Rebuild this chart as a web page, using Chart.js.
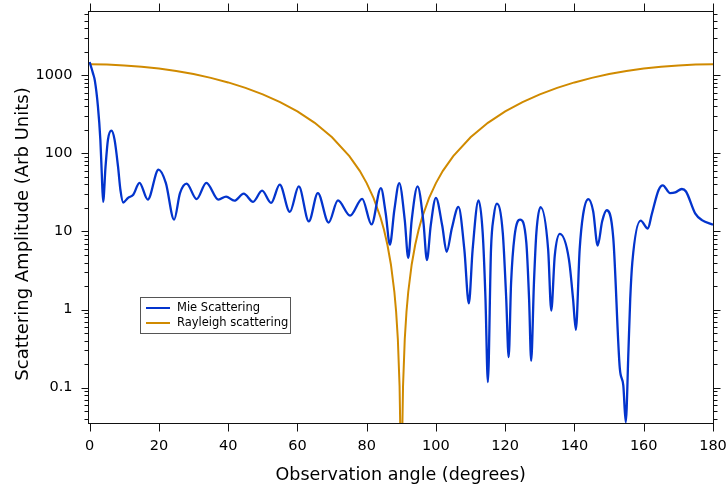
<!DOCTYPE html>
<html>
<head>
<meta charset="utf-8">
<script src="https://cdn.jsdelivr.net/npm/chart.js@4.4.0/dist/chart.umd.min.js"></script>
<style>
  html, body { margin: 0; padding: 0; background: #fff; }
</style>
</head>
<body>
<canvas id="scatterChart" width="728" height="492"></canvas>
<script>
// values
var mieAngle = [0, 1, 1.5, 2.4, 3.1, 3.5, 3.9, 4.6, 5.3, 6.3, 7.2, 8.2, 8.9, 9.7, 11.1, 12.6, 14.4, 16.8, 19.9, 22,
  24.4, 26.1, 28, 30.9, 33.7, 37.2, 39.4, 41.8, 44.5, 47.2, 49.8, 52.4, 54.9, 57.8, 60.4, 63.3, 65.9, 69, 71.7, 75.2,
  78.7, 81.4, 84.1, 85.5, 86.7, 88, 89.4, 91, 92, 93, 94.7, 96.4, 97.4, 98.5, 100, 101.8, 103.1, 104.6, 106.5, 108.2,
  109.5, 110.6, 112.3, 113.5, 114.3, 115, 115.9, 116.7, 117.6, 119.3, 120.3, 121, 121.7, 122.7, 124.3, 126.1, 126.9, 127.5, 128.3, 129,
  130.2, 132.4, 133.3, 134.3, 135.8, 138.4, 139.6, 140.4, 141.5, 142.5, 144, 145.4, 146.7, 148, 149.3, 151.2, 153.1, 154.1, 154.8, 155.6,
  156.1, 156.7, 159.1, 161.2, 162.3, 164.3, 165.5, 167.6, 169.1, 171, 172.2, 174.9, 176.8, 180];
var mieAmp = [1480, 1050, 860, 400, 150, 57, 24, 68, 150, 195, 150, 68, 34, 23.5, 27, 29.6, 42, 25.6, 62, 42,
  14.2, 31, 41, 26, 42, 25.6, 28, 24.8, 30.5, 24, 33.3, 23.2, 39.7, 17.8, 37.7, 13.5, 31, 13, 25, 16,
  26.2, 12.3, 36, 17, 6.8, 19, 41.7, 14, 4.6, 14, 37.7, 13, 4.3, 12, 27, 12, 5.5, 11, 20.7, 5.9,
  1.2, 5.9, 25, 9.6, 1.4, 0.118, 5.9, 15.7, 22.7, 9.6, 1.36, 0.246, 2.2, 8.7, 14.2, 7.2, 1.36, 0.22, 2.2, 9.6,
  20.5, 5.9, 0.97, 4.85, 9.3, 4.4, 1.36, 0.55, 5.9, 16.5, 26, 18.2, 6.6, 13.5, 18.7, 8.3, 0.175, 0.107, 0.036, 0.31,
  1.36, 4, 13.8, 10.9, 16.5, 34, 39, 31, 31.6, 35, 32.5, 16.9, 14, 12.2];

var rayAngle = [0, 5, 10, 15, 20, 25, 30, 35, 40, 45, 50, 55, 60, 65, 70, 75, 78, 80, 82, 84, 85, 86, 87, 88, 88.5, 89, 89.5, 89.8, 90,
  90.2, 90.5, 91, 91.5, 92, 93, 94, 95, 96, 98, 100, 102, 105, 110, 115, 120, 125, 130, 135, 140, 145, 150, 155, 160, 165, 170, 175, 180];
var rayAmp = [1380, 1370, 1338, 1288, 1219, 1134, 1035, 926, 810, 690, 570, 454, 345, 246, 161, 92.4, 59.7, 41.6, 26.7, 15.1, 10.5, 6.72, 3.78, 1.68, 0.945, 0.42, 0.105, 0.0168, 0.0001,
  0.0168, 0.105, 0.42, 0.945, 1.68, 3.78, 6.72, 10.5, 15.1, 26.7, 41.6, 59.7, 92.4, 161, 246, 345, 454, 570, 690, 810, 926, 1035, 1134, 1219, 1288, 1338, 1370, 1380];

var xTickValues = [0, 20, 40, 60, 80, 100, 120, 140, 160, 180];
var yTickValues = [0.1, 1, 10, 100, 1000];
var yMin = 0.0343, yMax = 6650;
var xMin = -0.61, xMax = 180.29;

var mieColor = '#0334cd';
var rayColor = '#d08a00';
var axisColor = '#111';

function toPoints(xs, ys) {
    return xs.map(function (v, i) { return { x: v, y: ys[i] }; });
}

// minor ticks on the log axis: 2..9 times each decade
var yMinorValues = [];
for (var e = -2; e <= 3; e++) {
    for (var m = 2; m <= 9; m++) {
        var v = m * Math.pow(10, e);
        if (v > yMin && v < yMax) yMinorValues.push(v);
    }
}

// no extra room for the end labels, the frame sits where the reference has it
function noPadding(scale) {
    scale.paddingTop = 0;
    scale.paddingBottom = 0;
    scale.paddingLeft = 0;
    scale.paddingRight = 0;
}

// frame, outward ticks on all four sides, y title and the boxed legend
var framePlugin = {
    id: 'frame',
    afterDraw: function (chart) {
        var ctx = chart.ctx;
        var a = chart.chartArea;
        var xs = chart.scales.x, ys = chart.scales.y;
        ctx.save();
        ctx.strokeStyle = axisColor;
        ctx.lineWidth = 1;
        var L = Math.round(a.left) + 0.5, R = Math.round(a.right) - 0.5;
        var T = Math.round(a.top) + 0.5, B = Math.round(a.bottom) - 0.5;
        ctx.strokeRect(L, T, R - L, B - T);
        ctx.beginPath();
        xTickValues.forEach(function (v) {
            var px = Math.round(xs.getPixelForValue(v)) + 0.5;
            ctx.moveTo(px, B); ctx.lineTo(px, B + 8);
            ctx.moveTo(px, T); ctx.lineTo(px, T - 8);
        });
        yTickValues.forEach(function (v) {
            var py = Math.round(ys.getPixelForValue(v)) + 0.5;
            ctx.moveTo(L, py); ctx.lineTo(L - 7, py);
            ctx.moveTo(R, py); ctx.lineTo(R + 7, py);
        });
        yMinorValues.forEach(function (v) {
            var py = Math.round(ys.getPixelForValue(v)) + 0.5;
            ctx.moveTo(L, py); ctx.lineTo(L - 4, py);
            ctx.moveTo(R, py); ctx.lineTo(R + 4, py);
        });
        ctx.stroke();

        // y axis title
        ctx.fillStyle = '#000';
        ctx.font = '18px "DejaVu Sans"';
        ctx.textAlign = 'center';
        ctx.textBaseline = 'middle';
        ctx.translate(23, 234);
        ctx.rotate(-Math.PI / 2);
        ctx.fillText('Scattering Amplitude (Arb Units)', 0, 0);
        ctx.restore();

        // legend box
        ctx.save();
        ctx.strokeStyle = '#555';
        ctx.lineWidth = 1;
        ctx.strokeRect(140.5, 297.5, 150, 36);
        ctx.font = '11.5px "DejaVu Sans"';
        ctx.textAlign = 'left';
        ctx.textBaseline = 'middle';
        ctx.fillStyle = '#000';
        chart.data.datasets.forEach(function (ds, i) {
            var ly = 308 + i * 15;
            ctx.strokeStyle = ds.borderColor;
            ctx.lineWidth = 2;
            ctx.beginPath();
            ctx.moveTo(146, ly); ctx.lineTo(170, ly);
            ctx.stroke();
            ctx.fillText(ds.label, 177, ly);
        });
        ctx.restore();
    }
};

var ctx = document.getElementById('scatterChart').getContext('2d');
var chart = new Chart(ctx, {
    type: 'line',
    data: {
        datasets: [{
            label: 'Mie Scattering',
            data: toPoints(mieAngle, mieAmp),
            borderColor: mieColor,
            borderWidth: 2.3,
            pointRadius: 0,
            cubicInterpolationMode: 'monotone'
        }, {
            label: 'Rayleigh scattering',
            data: toPoints(rayAngle, rayAmp),
            borderColor: rayColor,
            borderWidth: 2,
            pointRadius: 0,
            tension: 0
        }]
    },
    options: {
        responsive: false,
        animation: false,
        devicePixelRatio: 1,
        layout: { padding: { top: 11, right: 14, left: 0, bottom: 0 } },
        plugins: {
            legend: { display: false },
            tooltip: { enabled: false }
        },
        scales: {
            x: {
                type: 'linear',
                min: xMin,
                max: xMax,
                afterBuildTicks: function (scale) {
                    scale.ticks = xTickValues.map(function (v) { return { value: v }; });
                },
                afterFit: function (scale) { scale.height = 68; noPadding(scale); },
                grid: { display: false, drawTicks: false },
                border: { display: false },
                ticks: {
                    autoSkip: false,
                    maxRotation: 0,
                    padding: 14,
                    color: '#000',
                    font: { family: 'DejaVu Sans', size: 14.5 }
                },
                title: {
                    display: true,
                    text: 'Observation angle (degrees)',
                    color: '#000',
                    font: { family: 'DejaVu Sans', size: 17.5 },
                    padding: { top: 0, bottom: 6 }
                }
            },
            y: {
                type: 'logarithmic',
                min: yMin,
                max: yMax,
                afterBuildTicks: function (scale) {
                    scale.ticks = yTickValues.map(function (v) { return { value: v }; });
                },
                afterFit: function (scale) { scale.width = 87.5; noPadding(scale); },
                grid: { display: false, drawTicks: false },
                border: { display: false },
                ticks: {
                    autoSkip: false,
                    padding: 15,
                    color: '#000',
                    font: { family: 'DejaVu Sans', size: 14.5 },
                    callback: function (v) { return String(v); }
                }
            }
        }
    },
    plugins: [framePlugin]
});
</script>
</body>
</html>
